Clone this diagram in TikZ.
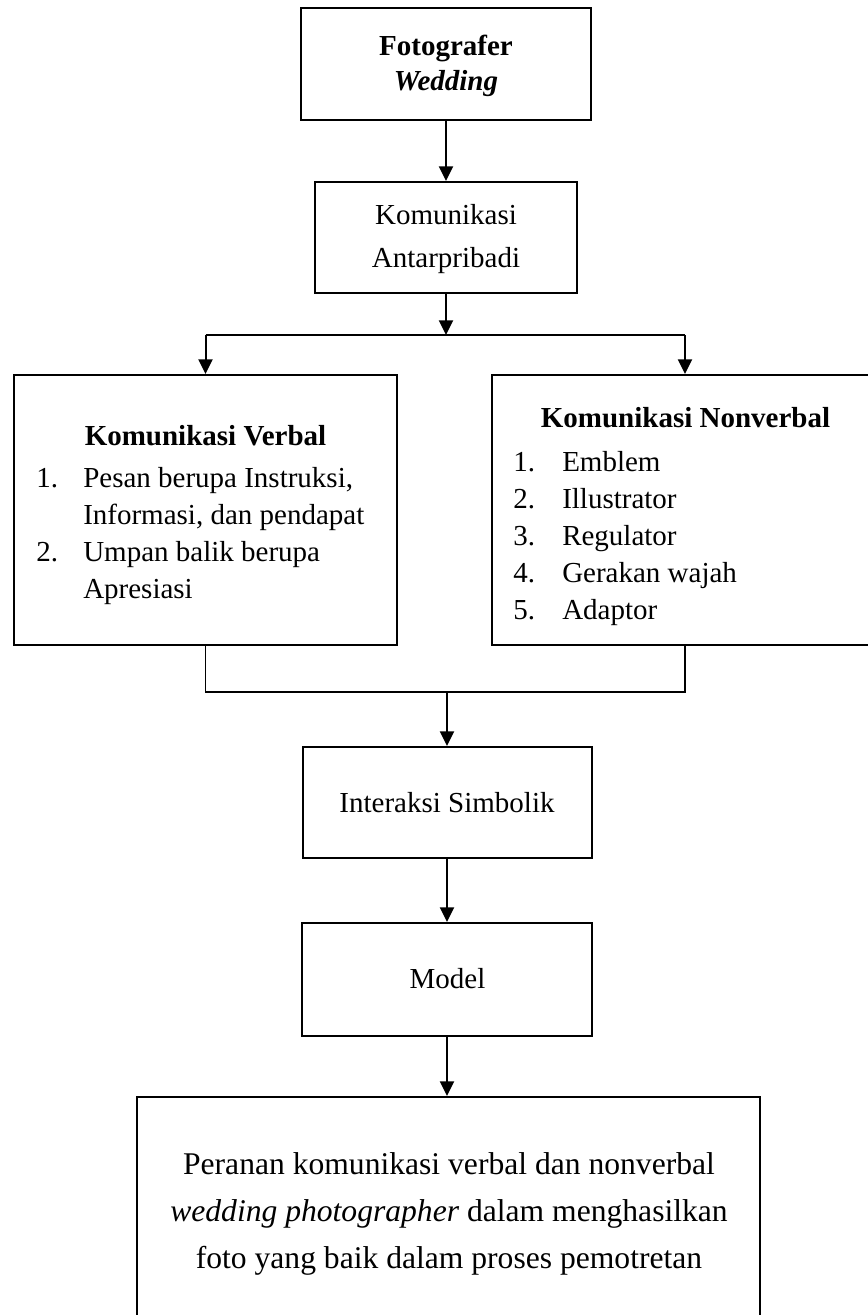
\documentclass[tikz,border=0pt]{standalone}
\usepackage{fontspec}
\setmainfont{Liberation Serif}
\usetikzlibrary{arrows.meta}
\begin{document}
\begin{tikzpicture}[x=0.75pt,y=-0.75pt,
  box/.style={draw, line width=1.5pt, inner sep=0pt, rectangle},
  txt/.style={inner sep=0pt, anchor=base, font=\fontsize{21.75}{26}\selectfont},
  txtl/.style={txt, anchor=base west},
  bigtxt/.style={inner sep=0pt, anchor=base, font=\fontsize{23.7}{28}\selectfont},
  arr/.style={line width=1.5pt, -{Triangle[length=11pt,width=10.5pt]}},
  thinline/.style={line width=0.8pt}]
\clip (0,0) rectangle (868,1315);
% boxes
\node[box, minimum width=217.5pt, minimum height=84pt] (b1) at (446,64) {};
\node[box, minimum width=196.5pt, minimum height=83.25pt] (b2) at (446,237.5) {};
\node[box, minimum width=287.25pt, minimum height=202.5pt] (lb) at (205.5,510) {};
\node[box, minimum width=289.5pt, minimum height=202.5pt] (rb) at (685,510) {};
\node[box, minimum width=216.75pt, minimum height=83.25pt] (ib) at (447,802.5) {};
\node[box, minimum width=217.5pt, minimum height=84.75pt] (mb) at (447,979.5) {};
\node[box, minimum width=467.25pt, minimum height=167.25pt] (fb) at (448.5,1208.5) {};
% texts
\node[txt, font=\fontsize{21.75}{26}\selectfont\bfseries] (t1a) at (446,55) {Fotografer};
\node[txt, font=\fontsize{21.75}{26}\selectfont\bfseries\itshape] (t1b) at (446,90) {Wedding};
\node[txt] (t2a) at (446,224) {Komunikasi};
\node[txt] (t2b) at (446,267) {Antarpribadi};
\node[txt, font=\fontsize{21.75}{26}\selectfont\bfseries] (lh) at (205.5,445) {Komunikasi Verbal};
\node[txtl] (ln1) at (36,487) {1.};
\node[txtl] (lt1) at (83,487) {Pesan berupa Instruksi,};
\node[txtl] (lt1b) at (83,524) {Informasi, dan pendapat};
\node[txtl] (ln2) at (36,561) {2.};
\node[txtl] (lt2) at (83,561) {Umpan balik berupa};
\node[txtl] (lt2b) at (83,598) {Apresiasi};
\node[txt, font=\fontsize{21.75}{26}\selectfont\bfseries] (rh) at (685.5,427) {Komunikasi Nonverbal};
\node[txtl] (rn1) at (513,471) {1.};
\node[txtl] (rt1) at (562,471) {Emblem};
\node[txtl] (rn2) at (513,508.5) {2.};
\node[txtl] (rt2) at (562,508.5) {Illustrator};
\node[txtl] (rn3) at (513,545.5) {3.};
\node[txtl] (rt3) at (562,545.5) {Regulator};
\node[txtl] (rn4) at (513,582.5) {4.};
\node[txtl] (rt4) at (562,582.5) {Gerakan wajah};
\node[txtl] (rn5) at (513,619.5) {5.};
\node[txtl] (rt5) at (562,619.5) {Adaptor};
\node[txt] (it) at (447,812) {Interaksi Simbolik};
\node[txt] (mt) at (447.5,988) {Model};
\node[bigtxt] (f1) at (449,1174) {Peranan komunikasi verbal dan nonverbal};
\node[bigtxt] (f2) at (449,1221) {\textit{wedding photographer} dalam menghasilkan};
\node[bigtxt] (f3) at (449,1268) {foto yang baik dalam proses pemotretan};
% connectors
\coordinate (j1) at (446,335);
\coordinate (k1) at (447,692);
\draw[arr] (b1.south) -- (b2.north);
\draw[arr] (b2.south) -- (j1);
\draw[thinline] (lb.north |- j1) -- (rb.north |- j1);
\draw[arr] (lb.north |- j1) -- (lb.north);
\draw[arr] (rb.north |- j1) -- (rb.north);
\draw[thinline] (lb.south) -- (lb.south |- k1) -- (rb.south |- k1) -- (rb.south);
\draw[arr] (k1) -- (ib.north);
\draw[arr] (ib.south) -- (mb.north);
\draw[arr] (mb.south) -- (mb.south |- fb.north);
\end{tikzpicture}
\end{document}
